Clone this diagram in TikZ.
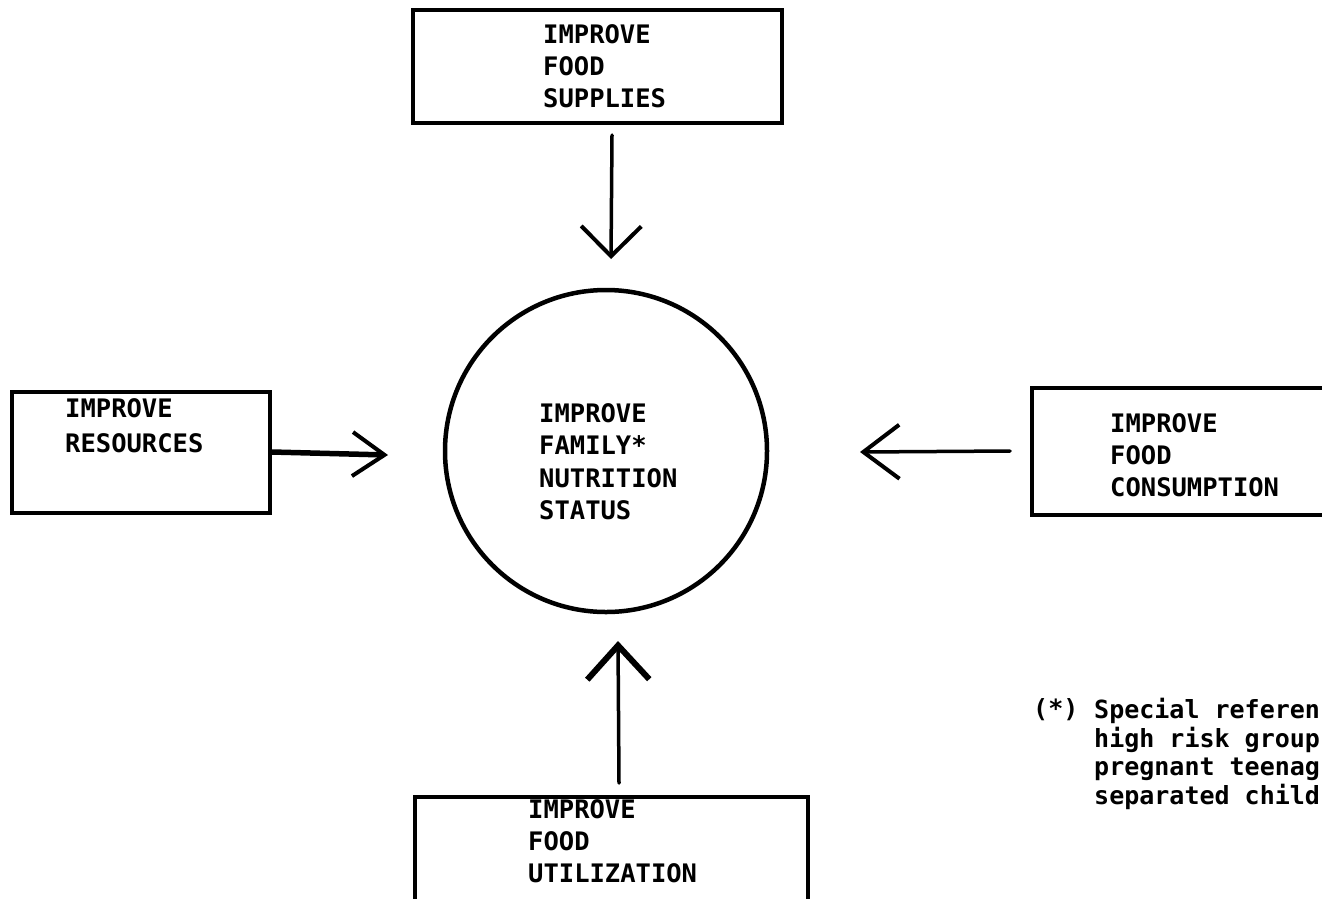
\documentclass[tikz,border=0pt]{standalone}
\usepackage{fontspec}
\newfontfamily\typew{DejaVu Sans Mono}[BoldFont={DejaVu Sans Mono Bold}]
\usetikzlibrary{arrows.meta}
\tikzset{
  box/.style={draw, line width=4pt, rectangle, inner sep=0pt},
  hub/.style={draw, line width=4.5pt, circle, inner sep=0pt, minimum size=322pt},
  lbl/.style={anchor=north west, inner sep=0pt, align=left,
              font=\typew\bfseries\fontsize{25.5}{32}\selectfont},
  arr/.style={line width=3.5pt, line cap=round,
              -{Straight Barb[length=30pt,width=60pt,line width=4pt]}},
}
\begin{document}
\begin{tikzpicture}[x=1pt,y=-1pt]
\useasboundingbox (0,0) rectangle (1322,898);
\fill[white] (0,0) rectangle (1322,898);
% boxes
\node[box, minimum width=369pt, minimum height=113pt] (sup) at (597.5,66.5) {};
\node[box, minimum width=258pt, minimum height=121pt] (res) at (141,452.5) {};
\node[box, minimum width=313pt, minimum height=127pt] (con) at (1188.5,451.5) {};
\node[box, minimum width=393pt, minimum height=123pt] (uti) at (611.5,858.5) {};
\node[hub] (hub) at (606,451) {};
% labels
\node[lbl] (supt) at (543,24) {IMPROVE\\FOOD\\SUPPLIES};
\node[lbl, font=\typew\bfseries\fontsize{25.5}{35}\selectfont] (rest) at (65,398) {IMPROVE\\RESOURCES};
\node[lbl] (cont) at (1110,413) {IMPROVE\\FOOD\\CONSUMPTION};
\node[lbl] (utit) at (528,799) {IMPROVE\\FOOD\\UTILIZATION};
\node[lbl, font=\typew\bfseries\fontsize{25.5}{32.5}\selectfont] (hubt) at (539,403) {IMPROVE\\FAMILY*\\NUTRITION\\STATUS};
% note
\node[lbl, font=\typew\bfseries\fontsize{25}{28.7}\selectfont] (star) at (1033,698) {(*)};
\node[lbl, font=\typew\bfseries\fontsize{25}{28.7}\selectfont] (note) at (1094,698)
  {Special referen\\high risk group\\pregnant teenag\\separated child};
% connectors
\coordinate (topS) at (612,135);
\coordinate (topT) at (611,259);
\coordinate (rightS) at (1010,451);
\coordinate (rightT) at (860,452);
\coordinate (leftT) at (388,455);
\coordinate (botS) at (619,783);
\coordinate (botT) at (618,641);
\draw[arr] (topS) -- (topT);
\draw[arr, -{Straight Barb[length=36pt,width=54pt,line width=4pt]}] (rightS) -- (rightT);
\draw[arr, line width=5.5pt, -{Straight Barb[length=32pt,width=44pt,line width=4pt]}] (res.east |- 0,452) -- (leftT);
\draw[arr, -{Straight Barb[length=34pt,width=62pt,line width=6pt]}] (botS) -- (botT);
\end{tikzpicture}
\end{document}
